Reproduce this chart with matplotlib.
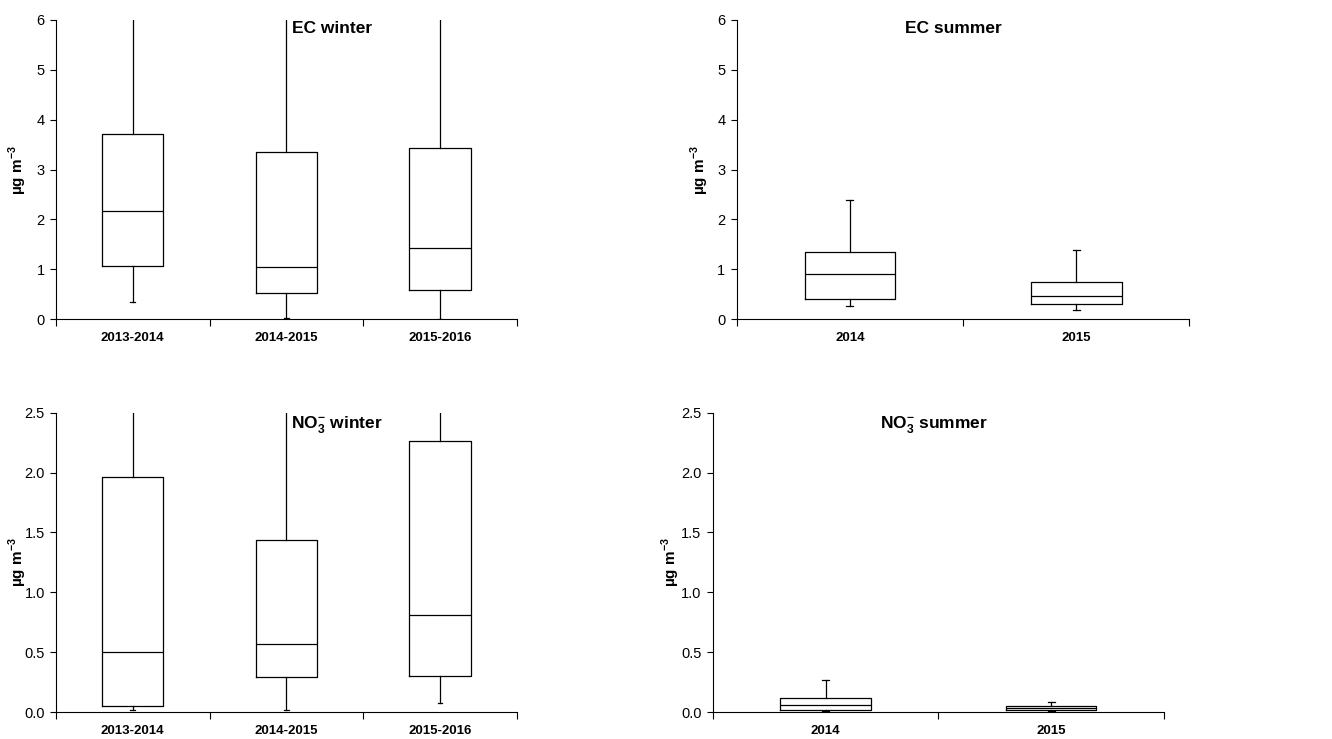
import numpy as np
import matplotlib
matplotlib.use('Agg')
from matplotlib import pyplot as plt

plt.rcParams['font.family'] = 'Liberation Sans'
plt.rcParams['mathtext.fontset'] = 'custom'
plt.rcParams['mathtext.rm'] = 'Liberation Sans'
plt.rcParams['mathtext.bf'] = 'Liberation Sans:bold'

winter_labels = ['2013-2014', '2014-2015', '2015-2016']
summer_labels = ['2014', '2015']

# box stats: lower whisker, Q1, median, Q3, upper whisker
# (winter upper whiskers run off the top of the axis)
ec_winter_lo = [0.35, 0.02, 0.0]
ec_winter_q1 = [1.06, 0.52, 0.59]
ec_winter_med = [2.17, 1.04, 1.42]
ec_winter_q3 = [3.71, 3.36, 3.44]
ec_winter_hi = [8.0, 8.0, 8.0]

ec_summer_lo = [0.27, 0.18]
ec_summer_q1 = [0.41, 0.31]
ec_summer_med = [0.91, 0.47]
ec_summer_q3 = [1.34, 0.74]
ec_summer_hi = [2.39, 1.39]

no3_winter_lo = [0.014, 0.02, 0.075]
no3_winter_q1 = [0.05, 0.295, 0.30]
no3_winter_med = [0.50, 0.57, 0.81]
no3_winter_q3 = [1.96, 1.44, 2.26]
no3_winter_hi = [3.5, 3.5, 3.5]

no3_summer_lo = [0.005, 0.005]
no3_summer_q1 = [0.02, 0.014]
no3_summer_med = [0.06, 0.033]
no3_summer_q3 = [0.12, 0.047]
no3_summer_hi = [0.27, 0.08]

ylabel = 'µg m$^{\\mathbf{-3}}$'

fig = plt.figure(figsize=(13.32, 7.39), dpi=100)


def draw_panel(rect, labels, lo, q1, med, q3, hi, ymax, ystep, fmt, title, title_x, ylab_x):
    ax = fig.add_axes(rect)
    stats = []
    for i in range(len(labels)):
        stats.append(dict(whislo=lo[i], q1=q1[i], med=med[i], q3=q3[i],
                          whishi=hi[i], label=labels[i]))
    pos = np.arange(1, len(labels) + 1)
    lw = 0.9
    ax.bxp(stats, positions=pos, widths=0.4, capwidths=0.03, showfliers=False,
           boxprops=dict(color='black', linewidth=lw),
           medianprops=dict(color='black', linewidth=lw),
           whiskerprops=dict(color='black', linewidth=lw),
           capprops=dict(color='black', linewidth=lw))

    ax.set_xlim(0.5, len(labels) + 0.5)
    ax.set_ylim(0, ymax)
    ax.set_xticks(np.arange(0.5, len(labels) + 1, 1.0))
    ax.set_xticklabels([])
    ax.set_xticks(pos, labels, minor=True)
    ax.tick_params(axis='x', which='major', direction='out', length=5, width=0.8)
    ax.tick_params(axis='x', which='minor', length=0, pad=9, labelsize=9.5)
    for t in ax.get_xticklabels(minor=True):
        t.set_fontweight('bold')

    ax.set_yticks(np.arange(0, ymax + ystep / 2, ystep))
    ax.yaxis.set_major_formatter(fmt)
    ax.tick_params(axis='y', direction='out', length=4, width=0.8, pad=4, labelsize=10.5)

    for s in ['top', 'right']:
        ax.spines[s].set_visible(False)
    for s in ['left', 'bottom']:
        ax.spines[s].set_linewidth(0.8)

    ax.set_ylabel(ylabel, fontsize=11, fontweight='bold')
    ax.yaxis.set_label_coords(ylab_x, 0.5)
    ax.yaxis.label.set_va('center')

    ax.text(title_x, 0.995, title, transform=ax.transAxes, ha='center', va='top',
            fontsize=12.5, fontweight='bold')
    return ax


int_fmt = matplotlib.ticker.FormatStrFormatter('%d')
dec_fmt = matplotlib.ticker.FormatStrFormatter('%.1f')

draw_panel([0.042, 0.568, 0.346, 0.405], winter_labels,
           ec_winter_lo, ec_winter_q1, ec_winter_med, ec_winter_q3, ec_winter_hi,
           6, 1, int_fmt, 'EC winter', 0.60, -0.082)
draw_panel([0.553, 0.568, 0.340, 0.405], summer_labels,
           ec_summer_lo, ec_summer_q1, ec_summer_med, ec_summer_q3, ec_summer_hi,
           6, 1, int_fmt, 'EC summer', 0.478, -0.082)
draw_panel([0.042, 0.0365, 0.346, 0.405], winter_labels,
           no3_winter_lo, no3_winter_q1, no3_winter_med, no3_winter_q3, no3_winter_hi,
           2.5, 0.5, dec_fmt, 'NO$_\\mathbf{3}^\\mathbf{-}$ winter', 0.61, -0.082)
draw_panel([0.535, 0.0365, 0.339, 0.405], summer_labels,
           no3_summer_lo, no3_summer_q1, no3_summer_med, no3_summer_q3, no3_summer_hi,
           2.5, 0.5, dec_fmt, 'NO$_\\mathbf{3}^\\mathbf{-}$ summer', 0.49, -0.092)

plt.savefig('out.png', dpi=100)
